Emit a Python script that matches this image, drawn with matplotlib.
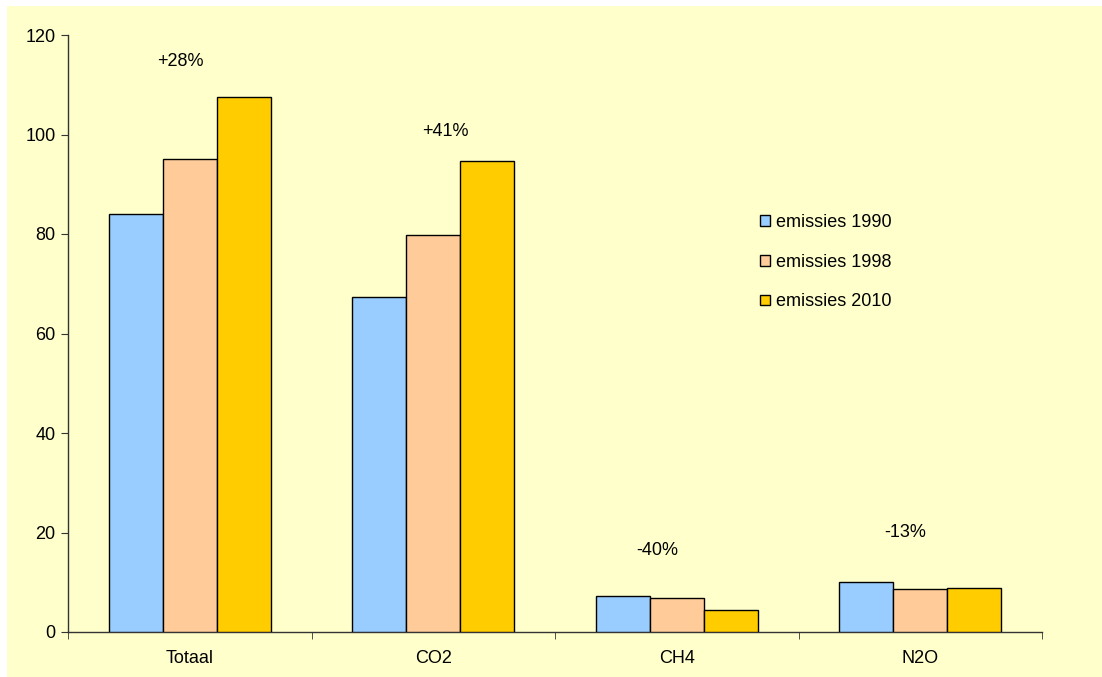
import matplotlib
matplotlib.use("Agg")
import matplotlib.pyplot as plt
import numpy as np
from matplotlib.patches import Rectangle

plt.rcParams['font.family'] = ['Liberation Sans', 'DejaVu Sans']

categories = ["Totaal", "CO2", "CH4", "N2O"]
series_names = ["emissies 1990", "emissies 1998", "emissies 2010"]
emissies_1990 = [84.1, 67.3, 7.3, 10.0]
emissies_1998 = [95.0, 79.8, 6.8, 8.7]
emissies_2010 = [107.5, 94.6, 4.5, 8.8]
change_labels = ["+28%", "+41%", "-40%", "-13%"]
label_x = [-0.04, 1.05, 1.92, 2.94]
label_y = [114.6, 100.7, 16.4, 20.0]

colors = ["#99CCFF", "#FFCC99", "#FFCC00"]
bg = "#FFFFCC"
FS = 13

fig = plt.figure(figsize=(11.02, 6.77), dpi=100, facecolor="white")
fig.patches.append(Rectangle((7/1102, 0), 1 - 7/1102, 1 - 6/677, transform=fig.transFigure,
                             facecolor=bg, edgecolor="none", zorder=-10))
ax = fig.add_axes([68/1102, 1 - 632/677, (1042-68)/1102, (632-35)/677])
ax.set_facecolor(bg)

x = np.arange(len(categories))
w = 54/243.5
data = [emissies_1990, emissies_1998, emissies_2010]
for i, (vals, c, name) in enumerate(zip(data, colors, series_names)):
    ax.bar(x + (i - 1) * w, vals, width=w, color=c, edgecolor="black", linewidth=1.0, label=name, zorder=3)

for t, lx, ly in zip(change_labels, label_x, label_y):
    ax.text(lx, ly, t, ha="center", va="center", fontsize=FS, color="black")

ax.set_xlim(-0.5, 3.5)
ax.set_ylim(0, 120)
ax.set_yticks(range(0, 121, 20))
ax.set_xticks(x)
ax.set_xticklabels(categories, fontsize=FS)
ax.set_xticks(np.arange(-0.5, 3.6, 1), minor=True)
ax.tick_params(axis="x", which="major", length=0, pad=13)
ax.tick_params(axis="x", which="minor", length=5, direction="out", color="#333333")
ax.tick_params(axis="y", length=5, direction="out", color="#333333", labelsize=FS, pad=4)
for s in ["top", "right"]:
    ax.spines[s].set_visible(False)
for s in ["left", "bottom"]:
    ax.spines[s].set_color("#333333")
    ax.spines[s].set_linewidth(1.0)

leg = ax.legend(loc="upper left", bbox_to_anchor=((753-68)/974, (632-207)/597),
                frameon=False, fontsize=FS, handlelength=0.55, handleheight=0.55,
                handletextpad=0.3, labelspacing=1.25, borderaxespad=0)

fig.savefig("out.png", dpi=100, facecolor=fig.get_facecolor())
